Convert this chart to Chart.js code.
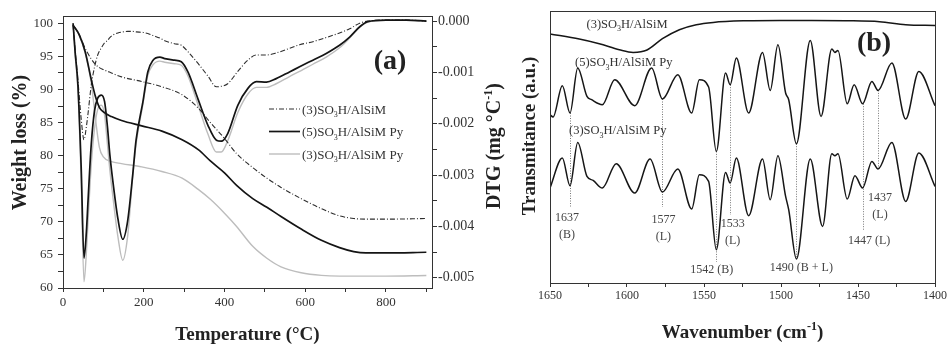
<!DOCTYPE html>
<html>
<head>
<meta charset="utf-8">
<title>TG/DTG and Py-FTIR</title>
<script src="https://cdn.jsdelivr.net/npm/chart.js@4.4.1/dist/chart.umd.min.js"></script>
<style>
  html, body { margin: 0; padding: 0; background: #fff; }
  #wrap { position: relative; width: 949px; height: 344px; overflow: hidden; background: #fff; }
  #tga { position: absolute; left: 0; top: 0; }
  #ftir { position: absolute; left: 512px; top: 0; }
</style>
</head>
<body>
<div id="wrap">
  <canvas id="tga" width="512" height="344"></canvas>
  <canvas id="ftir" width="437" height="344"></canvas>
</div>
<script>
const serif = '"Liberation Serif", "Times New Roman", serif';
Chart.defaults.font.family = serif;
Chart.defaults.color = '#333';

const sampleNames = ['(3)SO3H/AlSiM', '(5)SO3H/AlSiM Py', '(3)SO3H/AlSiM Py'];

// TG curves, weight %
const tgTemp = [25, 40, 55, 70, 80, 90, 100, 120, 145, 195, 245, 295, 335, 365, 400, 430, 470, 505, 540, 590, 640, 685, 720, 750, 800, 900];
const tgPure = [99.7, 98.3, 96.2, 94.6, 93.8, 93.3, 93.0, 92.5, 91.9, 91.2, 90.4, 89.2, 87.2, 85.0, 82.6, 80.3, 78.2, 76.6, 75.2, 73.5, 72.0, 70.9, 70.5, 70.4, 70.4, 70.5];
const tg5Py = [99.7, 98.3, 95.7, 91.5, 89.0, 87.3, 86.6, 85.9, 85.3, 84.5, 83.7, 82.4, 80.9, 79.2, 77.4, 75.5, 73.5, 72.2, 70.8, 68.9, 67.2, 66.1, 65.5, 65.3, 65.3, 65.4];
const tg3Py = [99.7, 98.2, 95.5, 91.0, 85.8, 81.3, 79.8, 79.1, 78.8, 78.3, 77.6, 76.6, 74.9, 73.4, 71.3, 69.3, 66.3, 64.5, 63.2, 62.3, 61.9, 61.8, 61.8, 61.8, 61.8, 61.9];

// DTG curves, mg/°C
const dtgTemp = [25, 30, 37, 45, 52, 58, 62, 70, 78, 86, 95, 103, 110, 116, 124, 136, 148, 160, 173, 181, 198, 210, 223, 240, 252, 276, 293, 310, 334, 359, 380, 392, 408, 433, 458, 479, 504, 528, 561, 586, 619, 652, 685, 710, 735, 755, 800, 850, 900];
const dtgPure = [-0.00008, -0.00055, -0.00115, -0.0019, -0.00231, -0.00205, -0.0018, -0.00125, -0.0009, -0.00066, -0.00052, -0.00042, -0.00038, -0.00032, -0.00027, -0.00023, -0.00021, -0.0002, -0.0002, -0.00021, -0.00022, -0.00024, -0.00028, -0.00033, -0.00038, -0.00044, -0.00047, -0.0006, -0.00082, -0.00107, -0.00128, -0.00127, -0.00122, -0.00098, -0.00076, -0.00066, -0.00066, -0.00062, -0.00053, -0.00046, -0.0004, -0.00032, -0.00023, -0.00015, -0.00004, 0, 0.00002, 0.00002, 0];
const dtg5Py = [-0.00004, -0.0006, -0.00125, -0.00284, -0.00462, -0.0041, -0.0035, -0.0024, -0.00175, -0.0015, -0.00144, -0.00157, -0.00205, -0.0026, -0.00315, -0.00385, -0.00425, -0.0039, -0.00297, -0.00232, -0.00157, -0.00099, -0.00076, -0.0007, -0.00073, -0.00076, -0.00079, -0.001, -0.00151, -0.00203, -0.00232, -0.00234, -0.00219, -0.00164, -0.00131, -0.00118, -0.00119, -0.00112, -0.00099, -0.00089, -0.00076, -0.00063, -0.00047, -0.00031, -0.00011, -0.00001, 0.00002, 0.00002, 0];
const dtg3Py = [-0.00004, -0.00065, -0.00135, -0.0031, -0.00508, -0.0045, -0.0039, -0.0028, -0.0021, -0.00172, -0.00164, -0.00183, -0.0024, -0.0029, -0.00345, -0.0042, -0.00466, -0.0042, -0.003, -0.0024, -0.00162, -0.00106, -0.00085, -0.00078, -0.0008, -0.00083, -0.00086, -0.00108, -0.00162, -0.0022, -0.00255, -0.00255, -0.00233, -0.00178, -0.00142, -0.00129, -0.00129, -0.00122, -0.00108, -0.00098, -0.00084, -0.0007, -0.00052, -0.00033, -0.00012, -0.00002, 0.00002, 0.00002, 0];

const tempLabels = [0, 200, 400, 600, 800];
const weightLabels = [60, 65, 70, 75, 80, 85, 90, 95, 100];
const dtgLabels = [0, -0.001, -0.002, -0.003, -0.004, -0.005];

// Py-FTIR spectra, transmittance in arbitrary units
const wnTop = [1650, 1631, 1618, 1605, 1596, 1587, 1577, 1566, 1555, 1544, 1523, 1501, 1480, 1458, 1436, 1419, 1400];
const trTop = [249, 244, 239.3, 233.3, 230.6, 233, 244.3, 253.3, 258.3, 260.6, 262.2, 262.6, 262.6, 262.3, 261.3, 258.3, 257.5];
const wnMid = [1650, 1648, 1642, 1637, 1632, 1626, 1623, 1616, 1608, 1595, 1584, 1577, 1567, 1558, 1553, 1547, 1542, 1536, 1533, 1529, 1521, 1512, 1507, 1502, 1497, 1495, 1490, 1481, 1474, 1467, 1465, 1463, 1457, 1452.5, 1447, 1441, 1437, 1428, 1419, 1410.5, 1400];
const trMid = [168.3, 166, 197.3, 170, 215, 186.6, 183.3, 178.3, 203.3, 177.3, 215, 184, 208.3, 170, 203.3, 196, 131.6, 210, 198.3, 225, 170, 230.6, 192.6, 238.3, 190, 183.3, 139.3, 242.6, 166.6, 234, 230.6, 232.6, 179.3, 198.3, 179.3, 201.6, 192.6, 220, 164, 211.6, 177.3];
const wnLow = [1650, 1642, 1637, 1632, 1626, 1622, 1616, 1607, 1595, 1585, 1577, 1567, 1558, 1553, 1547, 1542, 1536, 1533, 1529, 1521, 1512, 1507, 1502, 1497, 1495, 1490, 1481, 1473, 1467, 1465, 1463, 1457, 1452, 1447, 1441, 1437, 1428, 1419, 1410.5, 1400];
const trLow = [95, 125, 97.3, 140.6, 106.6, 102.6, 95, 119.3, 90, 124, 91, 114, 74, 108.3, 101.6, 33.3, 110.6, 100, 125, 67.3, 124, 83.3, 127.3, 86.6, 73.3, 24, 124, 56.6, 129.3, 127.3, 129.3, 84, 107.3, 95, 121.6, 114, 140.6, 81.6, 130, 96.6];

const bandWn = [1637, 1577, 1542, 1533, 1490, 1447, 1437];
const bandText = [['1637', '(B)'], ['1577', '(L)'], ['1542 (B)'], ['1533', '(L)'], ['1490 (B + L)'], ['1447 (L)'], ['1437', '(L)']];
const guideEnd = [75, 76, 21, 68, 24, 52, 114];
const wnLabels = [1650, 1600, 1550, 1500, 1450, 1400];

const lineStyles = [
  { color: '#2e2e2e', width: 1.1, dash: [5, 2, 1, 2] },
  { color: '#141414', width: 1.7, dash: [] },
  { color: '#bdbdbd', width: 1.4, dash: [] }
];

// text with sub/superscript pieces: [[text, ''|'sub'|'sup'], ...]
function drawRich(ctx, parts, x, y, size, weight, align, angle) {
  const fontOf = k => `${weight} ${k ? Math.round(size * 0.62) : size}px ${serif}`;
  let w = 0;
  parts.forEach(([t, k]) => { ctx.font = fontOf(k); w += ctx.measureText(t).width; });
  ctx.save();
  ctx.translate(x, y);
  if (angle) ctx.rotate(angle);
  ctx.textAlign = 'left';
  ctx.textBaseline = 'alphabetic';
  let cx = align === 'center' ? -w / 2 : 0;
  parts.forEach(([t, k]) => {
    ctx.font = fontOf(k);
    const dy = k === 'sub' ? size * 0.3 : k === 'sup' ? -size * 0.42 : 0;
    ctx.fillText(t, cx, dy);
    cx += ctx.measureText(t).width;
  });
  ctx.restore();
}

function chem(name) {
  const m = name.match(/^(.*SO)(\d)(H.*)$/);
  return m ? [[m[1], ''], [m[2], 'sub'], [m[3], '']] : [[name, '']];
}

function drawFrame(chart) {
  const { ctx, chartArea: a } = chart;
  ctx.save();
  ctx.strokeStyle = '#333';
  ctx.lineWidth = 1;
  const l = Math.round(a.left) + 0.5, t = Math.round(a.top) + 0.5;
  ctx.strokeRect(l, t, Math.round(a.right) - Math.round(a.left), Math.round(a.bottom) - Math.round(a.top));
  ctx.restore();
}

function tickFont(size) {
  return { family: serif, size: size };
}

// ---------- panel (a): TG / DTG ----------
function tgaSet(xs, ys, axis, i) {
  return {
    label: sampleNames[i],
    data: xs.map((x, k) => ({ x: x, y: ys[k] })),
    yAxisID: axis,
    borderColor: lineStyles[i].color,
    borderWidth: lineStyles[i].width,
    borderDash: lineStyles[i].dash,
    pointRadius: 0,
    fill: false,
    cubicInterpolationMode: 'monotone',
    order: [1, 0, 2][i]
  };
}

const tgaDecor = {
  id: 'tgaDecor',
  afterDraw(chart) {
    const ctx = chart.ctx;
    drawFrame(chart);
    ctx.save();
    // legend
    sampleNames.forEach((name, i) => {
      const y = 109 + i * 22.5;
      ctx.strokeStyle = lineStyles[i].color;
      ctx.lineWidth = lineStyles[i].width;
      ctx.setLineDash(lineStyles[i].dash);
      ctx.beginPath();
      ctx.moveTo(269, y);
      ctx.lineTo(300, y);
      ctx.stroke();
      ctx.setLineDash([]);
      ctx.fillStyle = '#333';
      drawRich(ctx, chem(name), 302, y + 4.5, 13, 'normal', 'left');
    });
    ctx.fillStyle = '#222';
    drawRich(ctx, [['(a)', '']], 390, 69, 28, 'bold', 'center');
    drawRich(ctx, [['Weight loss (%)', '']], 26, 142.5, 20, 'bold', 'center', -Math.PI / 2);
    drawRich(ctx, [['Temperature (°C)', '']], (chart.chartArea.left + chart.chartArea.right) / 2, 340, 19, 'bold', 'center');
    drawRich(ctx, [['DTG (mg °C', ''], ['-1', 'sup'], [')', '']], 500, 146, 20, 'bold', 'center', -Math.PI / 2);
    ctx.restore();
  }
};

new Chart(document.getElementById('tga'), {
  type: 'line',
  data: {
    datasets: [
      tgaSet(tgTemp, tgPure, 'y', 0),
      tgaSet(tgTemp, tg5Py, 'y', 1),
      tgaSet(tgTemp, tg3Py, 'y', 2),
      tgaSet(dtgTemp, dtgPure, 'y2', 0),
      tgaSet(dtgTemp, dtg5Py, 'y2', 1),
      tgaSet(dtgTemp, dtg3Py, 'y2', 2)
    ]
  },
  options: {
    responsive: false,
    animation: false,
    layout: { padding: { top: 16, left: 0, right: 0, bottom: 0 } },
    plugins: { legend: { display: false }, tooltip: { enabled: false } },
    scales: {
      x: {
        type: 'linear', min: 0, max: 914,
        ticks: { stepSize: 100, includeBounds: false, autoSkip: false, maxRotation: 0, padding: 3, color: '#333', font: tickFont(13),
          callback: v => tempLabels.includes(v) ? String(v) : '' },
        grid: { drawOnChartArea: false, tickLength: 4, color: '#333' },
        border: { color: '#333', width: 1 },
        afterFit: s => { s.height = 56; }
      },
      y: {
        position: 'left', min: 60, max: 101.1,
        ticks: { stepSize: 2.5, includeBounds: false, autoSkip: false, padding: 5, color: '#333', font: tickFont(13),
          callback: v => weightLabels.includes(v) ? String(v) : '' },
        grid: { drawOnChartArea: false, tickLength: 5, color: '#333' },
        border: { color: '#333', width: 1 },
        afterFit: s => { s.width = 63; }
      },
      y2: {
        position: 'right', min: -0.0052, max: 0.0001,
        ticks: { stepSize: 0.0005, includeBounds: false, autoSkip: false, padding: 1, color: '#333', font: tickFont(14),
          callback: v => {
            const k = Math.round(v * 10000) / 10000;
            return dtgLabels.includes(k) ? (k === 0 ? '0.000' : k.toFixed(3)) : '';
          } },
        grid: { drawOnChartArea: false, tickLength: 5, color: '#333' },
        border: { color: '#333', width: 1 },
        afterFit: s => { s.width = 80; }
      }
    }
  },
  plugins: [tgaDecor]
});

// ---------- panel (b): Py-FTIR ----------
function irSet(xs, ys, name) {
  return {
    label: name,
    data: xs.map((x, k) => ({ x: x, y: ys[k] })),
    borderColor: '#161616',
    borderWidth: 1.5,
    pointRadius: 0,
    fill: false,
    cubicInterpolationMode: 'monotone'
  };
}

// where each band note sits: pixel shift from the band line and text baseline
const noteSpots = [
  { dx: -3, y: 220.5 }, { dx: 1, y: 222.5 }, { dx: -4.5, y: 272.5 }, { dx: 2.5, y: 227 },
  { dx: 5, y: 270.5 }, { dx: 6.5, y: 244 }, { dx: 2, y: 200.5 }
];

const irDecor = {
  id: 'irDecor',
  beforeDatasetsDraw(chart) {
    const { ctx, scales: { x, y } } = chart;
    ctx.save();
    ctx.strokeStyle = '#777';
    ctx.lineWidth = 1;
    ctx.setLineDash([1, 1.5]);
    bandWn.forEach((wn, i) => {
      const px = Math.round(x.getPixelForValue(wn)) + 0.5;
      ctx.beginPath();
      ctx.moveTo(px, y.getPixelForValue(trMid[wnMid.indexOf(wn)]));
      ctx.lineTo(px, y.getPixelForValue(guideEnd[i]));
      ctx.stroke();
    });
    ctx.restore();
  },
  afterDraw(chart) {
    const { ctx, scales: { x }, chartArea: a } = chart;
    drawFrame(chart);
    ctx.save();
    ctx.fillStyle = '#444';
    bandWn.forEach((wn, i) => {
      const px = x.getPixelForValue(wn) + noteSpots[i].dx;
      bandText[i].forEach((line, j) => {
        drawRich(ctx, [[line, '']], px, noteSpots[i].y + j * 17, 12, 'normal', 'center');
      });
    });
    ctx.fillStyle = '#333';
    drawRich(ctx, chem(sampleNames[0]), 74.5, 27.5, 12.5, 'normal', 'left');
    drawRich(ctx, chem(sampleNames[1]), 63, 66, 12.5, 'normal', 'left');
    drawRich(ctx, chem(sampleNames[2]), 57, 134, 12.5, 'normal', 'left');
    ctx.fillStyle = '#222';
    drawRich(ctx, [['(b)', '']], 362, 51, 28, 'bold', 'center');
    drawRich(ctx, [['Transmitance (a.u.)', '']], 23, 136, 19, 'bold', 'center', -Math.PI / 2);
    drawRich(ctx, [['Wavenumber (cm', ''], ['-1', 'sup'], [')', '']], (a.left + a.right) / 2, 338, 19, 'bold', 'center');
    ctx.restore();
  }
};

new Chart(document.getElementById('ftir'), {
  type: 'line',
  data: {
    datasets: [
      irSet(wnTop, trTop, sampleNames[0]),
      irSet(wnMid, trMid, sampleNames[1]),
      irSet(wnLow, trLow, sampleNames[2])
    ]
  },
  options: {
    responsive: false,
    animation: false,
    layout: { padding: { top: 11, left: 38, right: 13, bottom: 0 } },
    plugins: { legend: { display: false }, tooltip: { enabled: false } },
    scales: {
      x: {
        type: 'linear', min: 1400, max: 1650, reverse: true,
        ticks: { stepSize: 25, autoSkip: false, maxRotation: 0, padding: 2, color: '#333', font: tickFont(12),
          callback: v => wnLabels.includes(v) ? String(v) : '' },
        grid: { drawOnChartArea: false, tickLength: 4, color: '#333' },
        border: { color: '#333', width: 1 },
        afterFit: s => { s.height = 61; }
      },
      y: { display: false, min: 0, max: 272 }
    }
  },
  plugins: [irDecor]
});
</script>
</body>
</html>
